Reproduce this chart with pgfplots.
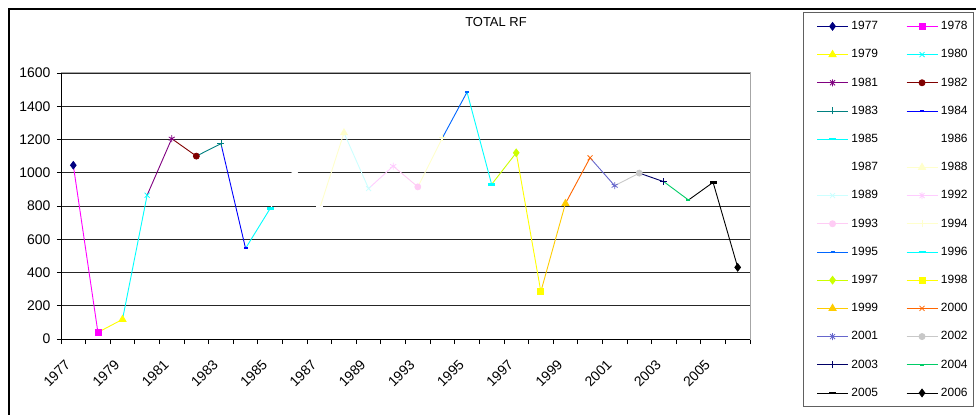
\documentclass[border=0pt]{standalone}
\usepackage{pgfplots}
\pgfplotsset{compat=1.18}
\usepackage{fontspec}
\setmainfont{Liberation Sans}
\definecolor{c77}{HTML}{000080}
\definecolor{c78}{HTML}{FF00FF}
\definecolor{c79}{HTML}{FFFF00}
\definecolor{c80}{HTML}{00FFFF}
\definecolor{c81}{HTML}{800080}
\definecolor{c82}{HTML}{800000}
\definecolor{c83}{HTML}{008080}
\definecolor{c84}{HTML}{0000FF}
\definecolor{c85}{HTML}{00FFFF}
\definecolor{c86}{HTML}{FFFFFF}
\definecolor{c87}{HTML}{FFFFFF}
\definecolor{c88}{HTML}{FFFFCC}
\definecolor{c89}{HTML}{CCFFFF}
\definecolor{c92}{HTML}{FFCCFF}
\definecolor{c93}{HTML}{FFCCF5}
\definecolor{c94}{HTML}{FFFFCC}
\definecolor{c95}{HTML}{0066FF}
\definecolor{c96}{HTML}{00FFFF}
\definecolor{c97}{HTML}{CCFF00}
\definecolor{c98}{HTML}{FFFF00}
\definecolor{c99}{HTML}{FFCC00}
\definecolor{c00}{HTML}{FF6600}
\definecolor{c01}{HTML}{6666CC}
\definecolor{c02}{HTML}{C8C8C8}
\definecolor{c03}{HTML}{000066}
\definecolor{c04}{HTML}{00CC66}
\definecolor{c05}{HTML}{000000}
\definecolor{c06}{HTML}{000000}
\pgfplotsset{
  seg/.style={color=#1, line width=0.9bp, mark indices={2}, mark options={solid, fill=#1, line width=0.8bp}},
  legline/.code={\path (-8bp,0bp) (33bp,0bp); \draw[mark=none] (0bp,0bp) -- (31bp,0bp);},
  ldia/.style={mark=diamond*, mark size=3.8bp, legend image code/.code={\pgfplotsset{legline}\fill[mark=none] (15.5bp,3.8bp) -- (18.35bp,0bp) -- (15.5bp,-3.8bp) -- (12.65bp,0bp) -- cycle;}},
  lsq/.style={mark=square*, mark size=3bp, legend image code/.code={\pgfplotsset{legline}\fill[mark=none] (12.5bp,-3bp) rectangle (18.5bp,3bp);}},
  ltri/.style={mark=triangle*, mark size=4bp, legend image code/.code={\pgfplotsset{legline}\fill[mark=none] (15.5bp,4bp) -- (18.96bp,-2bp) -- (12.04bp,-2bp) -- cycle;}},
  lx/.style={mark=x, mark size=3.5bp, legend image code/.code={\pgfplotsset{legline}\draw[mark=none, line width=0.8bp] (13bp,-2.5bp) -- (18bp,2.5bp) (13bp,2.5bp) -- (18bp,-2.5bp);}},
  last/.style={mark=asterisk, mark size=3.5bp, legend image code/.code={\pgfplotsset{legline}\draw[mark=none, line width=0.8bp] (13bp,-2.5bp) -- (18bp,2.5bp) (13bp,2.5bp) -- (18bp,-2.5bp) (15.5bp,-3.5bp) -- (15.5bp,3.5bp);}},
  lcirc/.style={mark=*, mark size=3bp, legend image code/.code={\pgfplotsset{legline}\fill[mark=none] (15.5bp,0bp) circle[radius=3bp];}},
  lplus/.style={mark=+, mark size=3.5bp, legend image code/.code={\pgfplotsset{legline}\draw[mark=none, line width=0.8bp] (12bp,0bp) -- (19bp,0bp) (15.5bp,-3.5bp) -- (15.5bp,3.5bp);}},
  sdash/.style={mark=-, mark size=2bp, mark options={line width=2bp}, legend image code/.code={\pgfplotsset{legline}\draw[mark=none, line width=2bp] (13.5bp,0bp) -- (17.5bp,0bp);}},
  ldash/.style={mark=-, mark size=3.5bp, mark options={line width=2.5bp}, legend image code/.code={\pgfplotsset{legline}\draw[mark=none, line width=2.5bp] (12bp,0bp) -- (19bp,0bp);}},
}
\begin{document}
\begin{tikzpicture}
\begin{axis}[
  at={(61bp,76bp)}, anchor=south west,
  scale only axis, width=689bp, height=266bp,
  xmin=-0.5, xmax=27.5, ymin=0, ymax=1600,
  ytick={0,200,...,1600},
  scaled y ticks=false,
  /pgf/number format/1000 sep={},
  /pgf/number format/assume math mode=true,
  xtick={0,2,...,26},
  xticklabels={1977,1979,1981,1983,1985,1987,1989,1993,1995,1997,1999,2001,2003,2005},
  minor xtick={-0.5,0.5,...,27.5},
  tick pos=left, tick align=outside,
  major tick length=4bp, minor tick length=5bp,
  major x tick style={draw=none},
  minor x tick style={black, line width=0.8bp},
  major y tick style={black, line width=0.8bp},
  ymajorgrids, grid style={black!85, line width=0.7bp},
  axis line style={draw=gray!70, line width=1bp},
  tick label style={font=\fontsize{14}{17}\selectfont},
  xticklabel style={xshift=-9bp, yshift=-14bp, rotate=45, anchor=north east, inner sep=1bp},
  yticklabel style={xshift=-3bp},
  title={TOTAL RF},
  title style={at={(axis description cs:0.6313,1.169)}, anchor=center, font=\fontsize{13}{15}\selectfont},
  legend columns=2,
  legend cell align=left,
  legend style={at={(axis description cs:1.0769,1.2293)}, anchor=north west,
    draw=gray!75!black, line width=1.2bp, inner xsep=5bp, inner ysep=7bp,
    font=\fontsize{12}{14}\selectfont,
    nodes={text height=9bp, text depth=2.5bp, inner xsep=1bp, inner ysep=1bp},
    row sep=14.7bp,
    /tikz/every even column/.append style={column sep=19bp}},
  after end axis/.code={\draw[black, line width=0.9bp] (rel axis cs:0,1) -- (rel axis cs:0,0) -- (rel axis cs:1,0);},
]
\addplot[color=c77, line width=0.9bp, mark options={solid, fill=c77, line width=0.8bp}, ldia] coordinates {(0,1045)};
\addlegendentry{1977}
\addplot[seg=c78, lsq] coordinates {(0,1045) (1,40)};
\addlegendentry{1978}
\addplot[seg=c79, ltri] coordinates {(1,40) (2,118)};
\addlegendentry{1979}
\addplot[seg=c80, lx] coordinates {(2,118) (3,865)};
\addlegendentry{1980}
\addplot[seg=c81, last] coordinates {(3,865) (4,1205)};
\addlegendentry{1981}
\addplot[seg=c82, lcirc] coordinates {(4,1205) (5,1100)};
\addlegendentry{1982}
\addplot[seg=c83, lplus] coordinates {(5,1100) (6,1175)};
\addlegendentry{1983}
\addplot[seg=c84, sdash] coordinates {(6,1175) (7,545)};
\addlegendentry{1984}
\addplot[seg=c85, ldash] coordinates {(7,545) (8,785)};
\addlegendentry{1985}
\addplot[seg=c86, ldia] coordinates {(8,785) (9,1000)};
\addlegendentry{1986}
\addplot[seg=c87, lsq] coordinates {(9,1000) (10,780)};
\addlegendentry{1987}
\addplot[seg=c88, ltri] coordinates {(10,780) (11,1240)};
\addlegendentry{1988}
\addplot[seg=c89, lx] coordinates {(11,1240) (12,905)};
\addlegendentry{1989}
\addplot[seg=c92, last] coordinates {(12,905) (13,1040)};
\addlegendentry{1992}
\addplot[seg=c93, lcirc] coordinates {(13,1040) (14,915)};
\addlegendentry{1993}
\addplot[seg=c94, lplus] coordinates {(14,915) (15,1210)};
\addlegendentry{1994}
\addplot[seg=c95, sdash] coordinates {(15,1210) (16,1485)};
\addlegendentry{1995}
\addplot[seg=c96, ldash] coordinates {(16,1485) (17,930)};
\addlegendentry{1996}
\addplot[seg=c97, ldia] coordinates {(17,930) (18,1120)};
\addlegendentry{1997}
\addplot[seg=c98, lsq] coordinates {(18,1120) (19,285)};
\addlegendentry{1998}
\addplot[seg=c99, ltri] coordinates {(19,285) (20,815)};
\addlegendentry{1999}
\addplot[seg=c00, lx] coordinates {(20,815) (21,1090)};
\addlegendentry{2000}
\addplot[seg=c01, last] coordinates {(21,1090) (22,922)};
\addlegendentry{2001}
\addplot[seg=c02, lcirc] coordinates {(22,922) (23,998)};
\addlegendentry{2002}
\addplot[seg=c03, lplus] coordinates {(23,998) (24,946)};
\addlegendentry{2003}
\addplot[seg=c04, sdash] coordinates {(24,946) (25,836)};
\addlegendentry{2004}
\addplot[seg=c05, ldash] coordinates {(25,836) (26,942)};
\addlegendentry{2005}
\addplot[seg=c06, ldia] coordinates {(26,942) (27,431)};
\addlegendentry{2006}
\end{axis}
\draw[black, line width=1.3bp] (9bp,0bp) -- (9bp,406bp) -- (976bp,406bp);
\pgfresetboundingbox
\path[use as bounding box] (0bp,0bp) rectangle (976bp,415bp);
\end{tikzpicture}
\end{document}
